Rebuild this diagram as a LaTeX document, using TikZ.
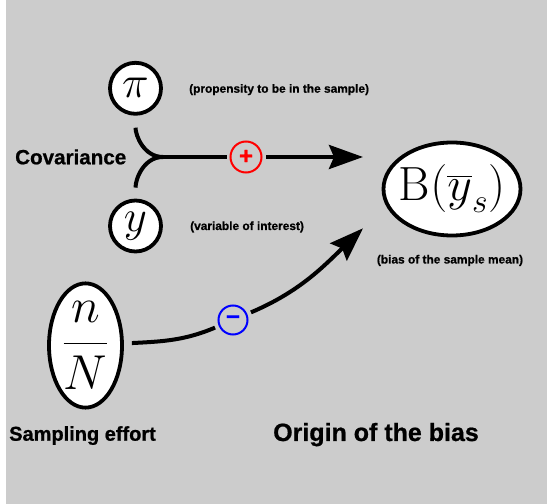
\documentclass[tikz,border=0pt]{standalone}
\usepackage{fix-cm}
\usepackage{exscale}
\usepackage{fontspec}
\newfontfamily\hv[BoldFeatures={FakeBold=0.8}]{Liberation Sans}
\usetikzlibrary{arrows.meta,shapes.geometric}
\definecolor{bg}{RGB}{204,204,204}
\begin{document}
\begin{tikzpicture}[x=1pt,y=1pt,
  var/.style={circle,draw=black,fill=white,line width=3.8pt,minimum size=51pt,inner sep=0pt,font=\fontsize{45}{48}\selectfont},
  ell/.style={ellipse,draw=black,fill=white,line width=3.8pt,inner sep=0pt},
  sign/.style={circle,draw,line width=2pt,minimum size=31pt,inner sep=0pt,font=\hv\bfseries\fontsize{24}{26}\selectfont},
  note/.style={font=\hv\bfseries\fontsize{11.9}{13}\selectfont,inner sep=0pt},
  biglabel/.style={font=\hv\bfseries\fontsize{20}{24}\selectfont,inner sep=0pt},
  conn/.style={line width=4pt},
  tip/.style={-{Stealth[length=34pt,width=24pt,inset=5pt]}}
]
\useasboundingbox (0,0) rectangle (547,504);
\fill[white] (0,0) rectangle (547,504);
\fill[bg] (6,0) rectangle (547,504);

\node[var] (pi) at (135.5,415.7) {$\pi$};
\node[var] (yv) at (135.5,278) {$y$};
\node[ell,minimum width=137pt,minimum height=93pt,inner xsep=-5pt,font=\fontsize{48}{52}\selectfont] (B) at (452,315) {$\mathrm{B}(\overline{y}_s)$};
\node[ell,minimum width=73pt,minimum height=121pt,font=\fontsize{49}{52}\selectfont] (nN) at (85.5,158.5) {$\displaystyle\frac{n}{N}$};

\node[sign,draw=red,text=red] (P) at (246,347) {+};
\node[sign,draw=blue,text=blue,minimum size=29pt] (M) at (233,184) {−};

\coordinate (J) at (163,347);
\coordinate (T1) at (363,347);
\coordinate (T2) at (363,275.7);

\node[biglabel,anchor=base west,font=\hv\bfseries\fontsize{20.6}{24}\selectfont] (cov) at (15,339.7) {Covariance};
\node[note,anchor=base west] (propnote) at (189,411.3) {(propensity to be in the sample)};
\node[note,anchor=base west] (varnote) at (190,274) {(variable of interest)};
\node[note,anchor=base] (biasnote) at (450,240.5) {(bias of the sample mean)};
\node[biglabel,anchor=base west] (effort) at (9,63.3) {Sampling effort};
\node[font=\hv\bfseries\fontsize{25}{28}\selectfont,inner sep=0pt,anchor=base west] (origin) at (273,63) {Origin of the bias};

\draw[conn,shorten <=12pt] (pi) to[out=-90,in=180] (J);
\draw[conn,shorten <=11pt] (yv) to[out=90,in=180] (J);
\draw[conn,shorten >=3pt] (J) -- (P);
\draw[conn,tip,shorten <=3.5pt] (P) -- (T1);

\draw[conn,shorten <=8pt,shorten >=4pt] (nN) to[out=3,in=-157] (M);
\draw[conn,tip,shorten <=4pt] (M) to[out=23,in=-136] (T2);
\end{tikzpicture}
\end{document}
